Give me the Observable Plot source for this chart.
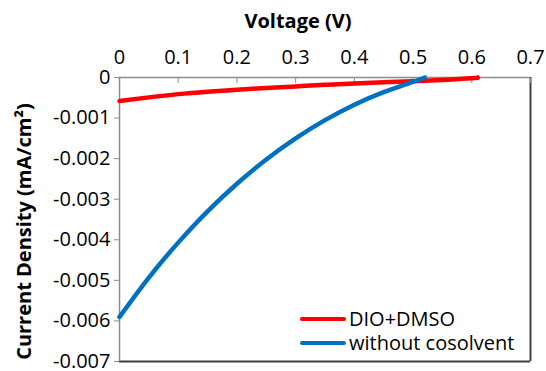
<!DOCTYPE html>
<html>
<head>
<meta charset="utf-8">
<script src="https://cdn.jsdelivr.net/npm/d3@7"></script>
<script src="https://cdn.jsdelivr.net/npm/@observablehq/plot@0.6"></script>
<style>
  body { margin: 0; background: #fff; }
  #wrap { position: relative; width: 546px; height: 371px; font-family: "Open Sans", sans-serif; }
  #legend { position: absolute; left: 300px; top: 307px; font-size: 20px; line-height: 24px; color: #000; }
  #legend .row { display: flex; align-items: center; height: 24px; }
  #legend .sw { width: 46px; height: 4px; border-radius: 2px; margin-right: 3px; }
</style>
</head>
<body>
<div id="wrap">
  <div id="legend"></div>
</div>
<script>
// Series names and colours
const seriesNames = ["DIO+DMSO", "without cosolvent"];
const seriesColors = ["#ff0000", "#0070c0"];

// DIO+DMSO
const redV = [0, 0.05, 0.1, 0.15, 0.2, 0.25, 0.3, 0.35, 0.4, 0.45, 0.5, 0.55, 0.6, 0.61];
const redJ = [-0.00058, -0.00049, -0.00041, -0.00035, -0.0003, -0.00026, -0.00022, -0.00018, -0.00015, -0.00012, -0.00009, -0.00006, -0.00002, 0];

// without cosolvent
const blueV = [0, 0.05, 0.1, 0.15, 0.2, 0.25, 0.3, 0.35, 0.4, 0.45, 0.5, 0.52];
const blueJ = [-0.0059, -0.00493, -0.00407, -0.0033, -0.00262, -0.00202, -0.0015, -0.00105, -0.00067, -0.00036, -0.00011, 0];

// Ticks
const xTicks = [0, 0.1, 0.2, 0.3, 0.4, 0.5, 0.6, 0.7];
const yTicks = [0, -0.001, -0.002, -0.003, -0.004, -0.005, -0.006, -0.007];
const xTickLabels = ["0", "0.1", "0.2", "0.3", "0.4", "0.5", "0.6", "0.7"];
const yTickLabels = ["0", "-0.001", "-0.002", "-0.003", "-0.004", "-0.005", "-0.006", "-0.007"];

const xTitle = "Voltage (V)";
const yTitle = "Current Density (mA/cm²)";

const red = redV.map((v, i) => ({V: v, J: redJ[i]}));
const blue = blueV.map((v, i) => ({V: v, J: blueJ[i]}));

const axisGray = "#8c8c8c";
const frameDark = "#404040";

const chart = Plot.plot({
  width: 546,
  height: 371,
  marginTop: 77,
  marginLeft: 119,
  marginRight: 16,
  marginBottom: 10,
  style: {fontFamily: "'Open Sans', sans-serif", fontSize: "20px", color: "#000", background: "#fff", overflow: "visible"},
  x: {domain: [0, 0.7]},
  y: {domain: [-0.007, 0]},
  marks: [
    Plot.ruleX([0.7], {stroke: frameDark, strokeWidth: 2}),
    Plot.ruleY([-0.007], {stroke: frameDark, strokeWidth: 2}),
    Plot.ruleX([0], {stroke: axisGray, strokeWidth: 1.5}),
    Plot.ruleY([0], {stroke: axisGray, strokeWidth: 1.5}),
    Plot.axisX({anchor: "top", ticks: xTicks, tickSize: -5, stroke: axisGray, tickFormat: () => "", label: null}),
    Plot.axisX({anchor: "top", ticks: xTicks, tickSize: 0, tickPadding: 14, fontSize: 20, tickFormat: (d) => xTickLabels[xTicks.indexOf(d)] ?? "", label: null}),
    Plot.axisY({anchor: "left", ticks: yTicks, tickSize: 5, tickPadding: 4, fontSize: 20, stroke: axisGray, tickFormat: (d) => yTickLabels[yTicks.findIndex(t => Math.abs(t - d) < 1e-9)] ?? "", label: null}),
    Plot.line(red, {x: "V", y: "J", stroke: seriesColors[0], strokeWidth: 4.5, curve: "natural"}),
    Plot.line(blue, {x: "V", y: "J", stroke: seriesColors[1], strokeWidth: 4.5, curve: "natural"}),
    Plot.text([xTitle], {frameAnchor: "top", lineAnchor: "middle", textAnchor: "middle", dx: -27, dy: -56, fontWeight: "bold", fontSize: 20}),
    Plot.text([yTitle], {frameAnchor: "left", lineAnchor: "middle", textAnchor: "middle", dx: -95, dy: 12, rotate: -90, fontWeight: "bold", fontSize: 20})
  ]
});

const wrap = document.getElementById("wrap");
wrap.insertBefore(chart, wrap.firstChild);

const legend = document.getElementById("legend");
seriesNames.forEach((name, i) => {
  const row = document.createElement("div");
  row.className = "row";
  const sw = document.createElement("div");
  sw.className = "sw";
  sw.style.background = seriesColors[i];
  const t = document.createElement("span");
  t.textContent = name;
  row.appendChild(sw);
  row.appendChild(t);
  legend.appendChild(row);
});
</script>
</body>
</html>
